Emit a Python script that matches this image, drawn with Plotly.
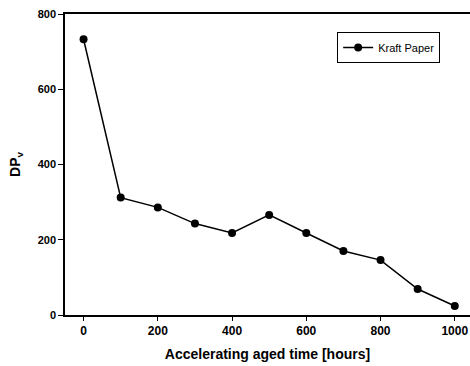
import plotly.graph_objects as go

hours = [0, 100, 200, 300, 400, 500, 600, 700, 800, 900, 1000]
dpv = [733, 312, 286, 243, 218, 266, 218, 170, 146, 69, 24]
series_name = "Kraft Paper"
x_ticks = [0, 200, 400, 600, 800, 1000]
y_ticks = [0, 200, 400, 600, 800]

font_family = "Liberation Sans, Arial, sans-serif"

fig = go.Figure()
fig.add_trace(go.Scatter(
    x=hours, y=dpv, mode="lines+markers", name=series_name,
    line=dict(color="black", width=1.5),
    marker=dict(color="black", size=8),
))

fig.update_layout(
    width=470, height=366,
    margin=dict(l=65, r=0, t=14, b=51),
    paper_bgcolor="white", plot_bgcolor="white",
    font=dict(family=font_family, color="black", size=10),
    showlegend=True,
    legend=dict(
        x=0.672, y=0.94, xanchor="left", yanchor="top",
        bordercolor="black", borderwidth=1, bgcolor="white",
        font=dict(size=11, family=font_family),
        itemwidth=30,
    ),
    xaxis=dict(
        range=[-50, 1041], tickvals=x_ticks,
        showgrid=False, zeroline=False,
        showline=True, linecolor="black", linewidth=1.5, mirror=True,
        ticks="outside", ticklen=4, tickcolor="black",
        tickfont=dict(size=12, weight="bold"),
        title=dict(text="Accelerating aged time [hours]", font=dict(size=14, weight="bold"), standoff=12),
    ),
    yaxis=dict(
        range=[0, 800], tickvals=y_ticks,
        showgrid=False, zeroline=False,
        showline=True, linecolor="black", linewidth=1.5,
        ticks="outside", ticklen=5, tickcolor="black",
        tickfont=dict(size=11, weight="bold"),
        title=dict(text="DP<sub>v</sub>", font=dict(size=14, weight="bold"), standoff=14),
    ),
)

fig.write_html("out.html")
